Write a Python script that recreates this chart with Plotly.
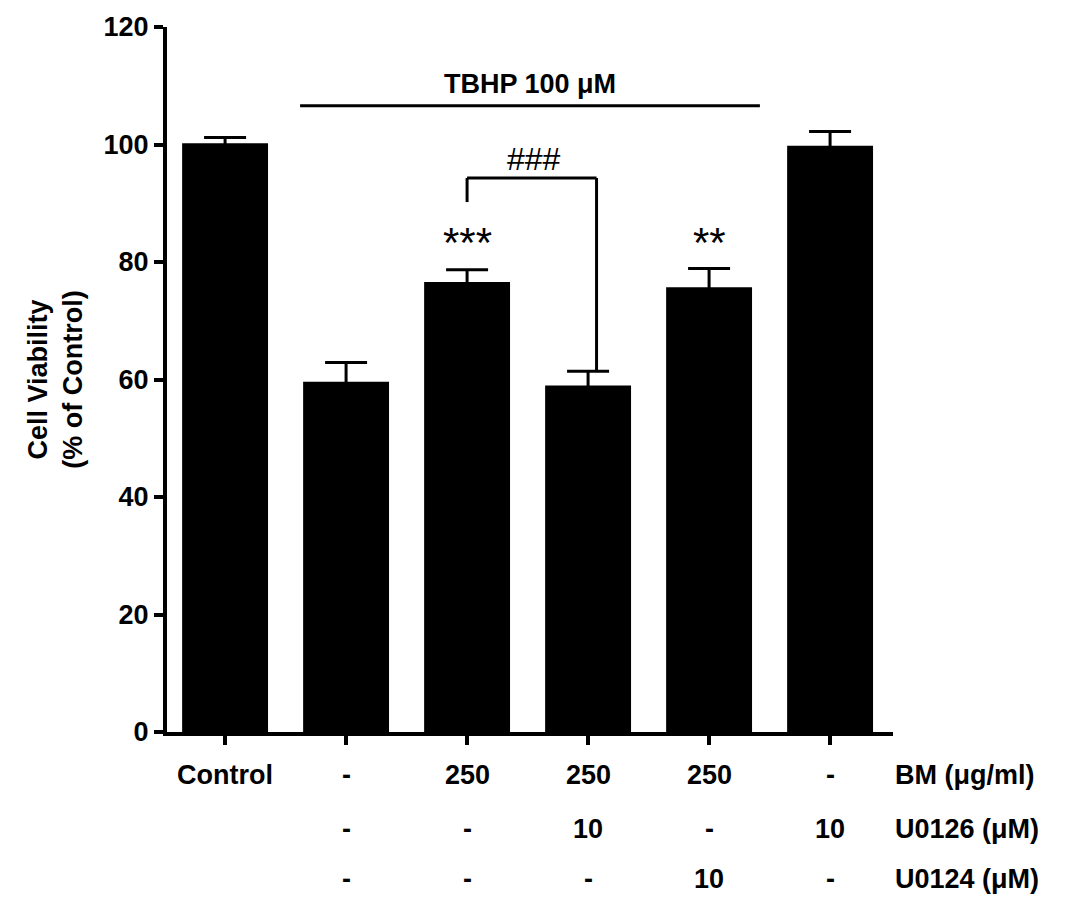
import plotly.graph_objects as go

groups = ["Control", "TBHP", "TBHP+BM", "TBHP+BM+U0126", "TBHP+BM+U0124", "U0126"]
viability = [100.2, 59.6, 76.6, 59.0, 75.7, 99.8]
sem = [1.0, 3.3, 2.1, 2.4, 3.2, 2.4]
row_bm = ["Control", "-", "250", "250", "250", "-"]
row_u0126 = ["", "-", "-", "10", "-", "10"]
row_u0124 = ["", "-", "-", "-", "10", "-"]
row_names = ["BM (μg/ml)", "U0126 (μM)", "U0124 (μM)"]
sig_marks = {2: "***", 4: "**"}

FONT = "Liberation Sans, Arial, sans-serif"
LBL = 27
xs = list(range(len(groups)))

fig = go.Figure()
fig.add_trace(go.Bar(
    x=xs, y=viability, width=0.71,
    marker=dict(color="black", line=dict(color="black", width=0)),
    error_y=dict(type="data", symmetric=True, array=sem, color="black",
                 thickness=3, width=21),
    showlegend=False,
))

annotations = []
row_y = [-0.061, -0.138, -0.209]
for r, row in enumerate([row_bm, row_u0126, row_u0124]):
    for i, t in enumerate(row):
        if t:
            annotations.append(dict(x=i, y=row_y[r], xref="x", yref="paper",
                                    text="<b>%s</b>" % t, showarrow=False,
                                    font=dict(family=FONT, size=LBL, color="black"),
                                    xanchor="center", yanchor="middle"))
    annotations.append(dict(x=1.0, y=row_y[r], xref="paper", yref="paper",
                            text="<b>%s</b>" % row_names[r], showarrow=False,
                            font=dict(family=FONT, size=LBL, color="black"),
                            xanchor="left", yanchor="middle"))

annotations.append(dict(x=2.52, y=110.3, xref="x", yref="y", text="<b>TBHP 100 μM</b>",
                        showarrow=False, font=dict(family=FONT, size=LBL, color="black")))
annotations.append(dict(x=2.55, y=97.6, xref="x", yref="y", text="###",
                        showarrow=False, font=dict(family=FONT, size=32, color="black")))
for i, s in sig_marks.items():
    annotations.append(dict(x=i, y=83.3, xref="x", yref="y", text=s,
                            showarrow=False, font=dict(family=FONT, size=42, color="black")))

shapes = [
    dict(type="line", xref="x", yref="y", x0=0.62, x1=4.42, y0=106.6, y1=106.6,
         line=dict(color="black", width=3)),
    dict(type="line", xref="x", yref="y", x0=2, x1=3.07, y0=94.3, y1=94.3,
         line=dict(color="black", width=3)),
    dict(type="line", xref="x", yref="y", x0=2, x1=2, y0=94.3, y1=90.2,
         line=dict(color="black", width=3)),
    dict(type="line", xref="x", yref="y", x0=3.07, x1=3.07, y0=94.3, y1=61.4,
         line=dict(color="black", width=3)),
]

fig.update_layout(
    width=1065, height=899,
    margin=dict(l=167, r=172, t=22, b=167),
    paper_bgcolor="white", plot_bgcolor="white",
    annotations=annotations, shapes=shapes,
    xaxis=dict(range=[-0.48, 5.52], tickvals=xs, showticklabels=False,
               ticks="outside", ticklen=9, tickwidth=4, tickcolor="black",
               showline=True, linecolor="black", linewidth=4,
               showgrid=False, zeroline=False),
    yaxis=dict(range=[0, 120], tickvals=[0, 20, 40, 60, 80, 100, 120],
               ticks="outside", ticklen=9, tickwidth=4, tickcolor="black",
               showline=True, linecolor="black", linewidth=4,
               showgrid=False, zeroline=False,
               tickfont=dict(family=FONT, size=LBL, color="black", weight="bold"),
               title=dict(text="<b>Cell Viability<br>(% of Control)</b>",
                          font=dict(family=FONT, size=LBL, color="black"),
                          standoff=14)),
    font=dict(family=FONT),
)

fig.write_html("out.html", config={"displayModeBar": False},
               post_script="document.body.style.margin='0';")
